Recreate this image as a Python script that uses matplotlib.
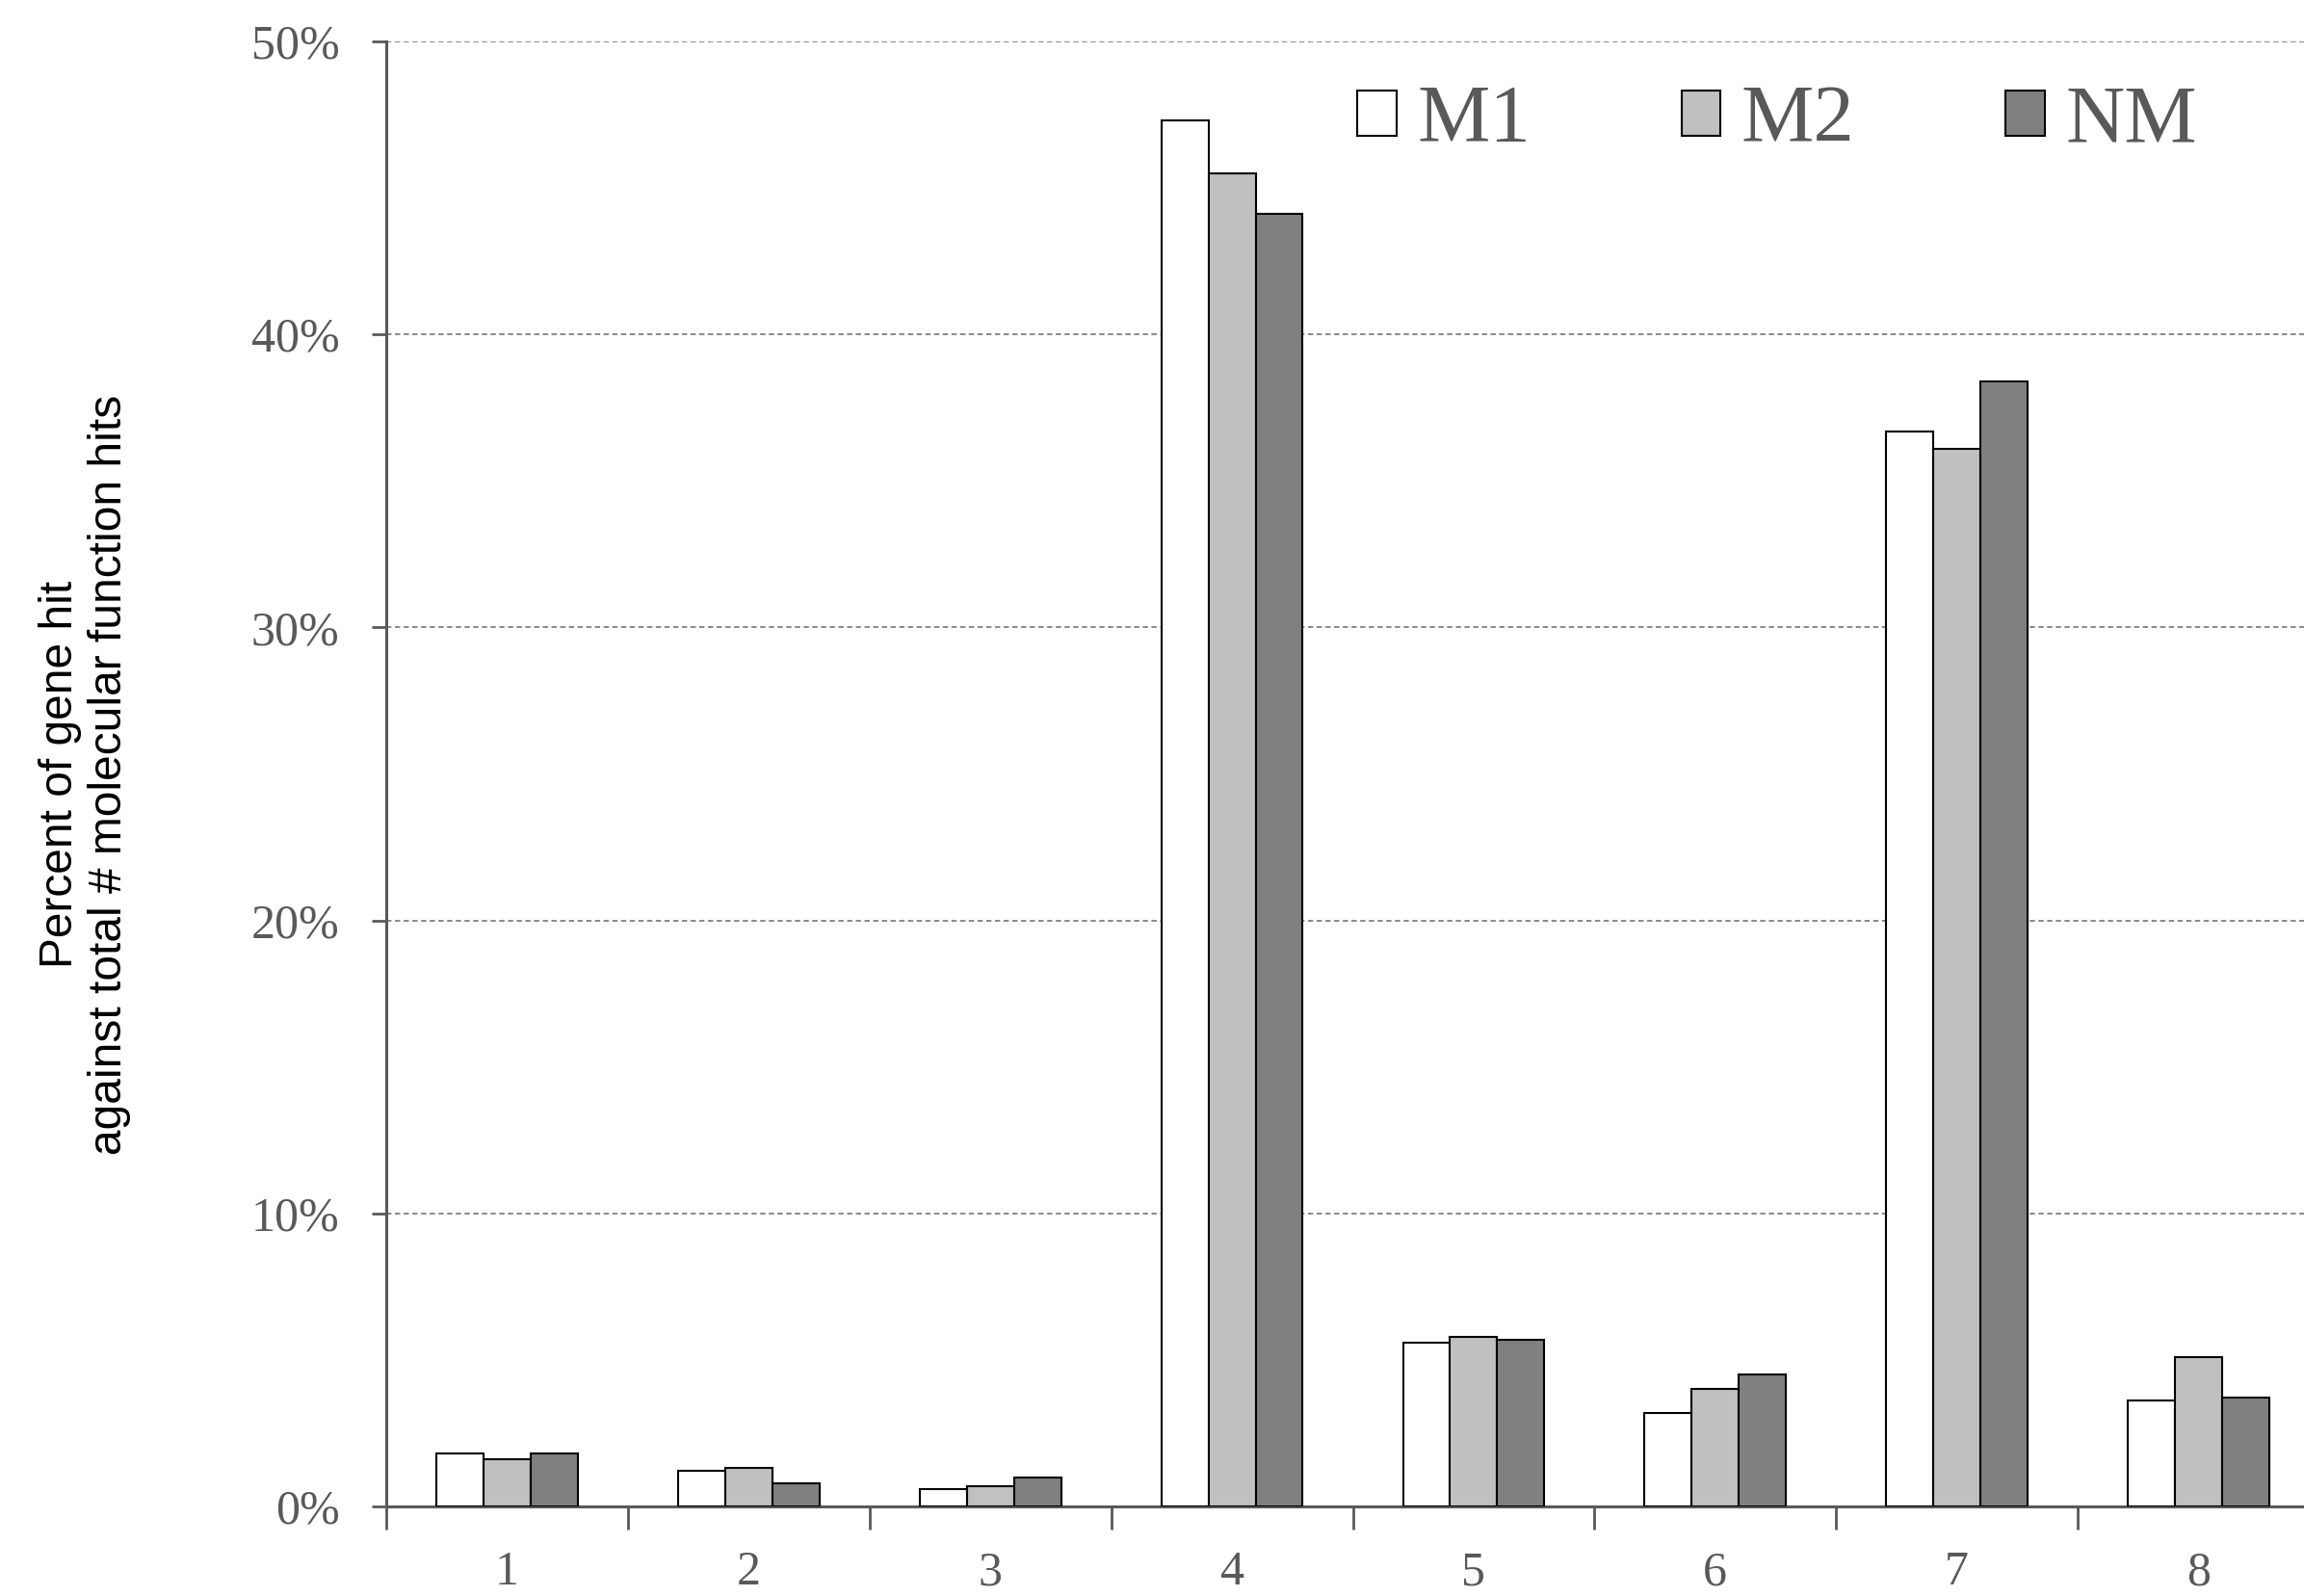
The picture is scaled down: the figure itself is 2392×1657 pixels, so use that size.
"""Grouped bar chart: percent of gene hits per molecular function category."""

import matplotlib
matplotlib.use("Agg")
import matplotlib.pyplot as plt
import numpy as np
from matplotlib.ticker import FuncFormatter, FixedLocator

categories = ["1", "2", "3", "4", "5", "6", "7", "8"]
m1 = [1.8, 1.2, 0.6, 47.3, 5.6, 3.2, 36.7, 3.6]
m2 = [1.6, 1.3, 0.7, 45.5, 5.8, 4.0, 36.1, 5.1]
nm = [1.8, 0.8, 1.0, 44.1, 5.7, 4.5, 38.4, 3.7]
series_names = ["M1", "M2", "NM"]
series_colors = ["#ffffff", "#c0c0c0", "#808080"]

GREY_TXT = "#595959"


def main() -> None:
    fig = plt.figure(figsize=(23.92, 16.57), dpi=100)
    ax = fig.add_axes([401 / 2392, 93 / 1657, 2007 / 2392, 1521 / 1657])

    x = np.arange(1, len(categories) + 1)
    w = 0.195
    for i, (vals, name, col) in enumerate(zip([m1, m2, nm], series_names, series_colors)):
        ax.bar(x + (i - 1) * w, vals, width=w, color=col, edgecolor="black",
               linewidth=1.5, label=name, zorder=3)

    ax.set_xlim(0.5, len(categories) + 0.5)
    ax.set_ylim(0, 50)
    ax.set_yticks(np.arange(0, 51, 10))
    ax.yaxis.set_major_formatter(FuncFormatter(lambda v, _: f"{int(v)}%"))
    ax.set_xticks(x)
    ax.set_xticklabels(categories)
    ax.xaxis.set_minor_locator(FixedLocator(np.arange(0.5, len(categories) + 1, 1)))

    ax.grid(axis="y", linestyle=(0, (3, 2)), color="#7f7f7f", linewidth=1.3, zorder=0)
    for side in ["top", "right"]:
        ax.spines[side].set_visible(False)
    for side in ["left", "bottom"]:
        ax.spines[side].set_color(GREY_TXT)
        ax.spines[side].set_linewidth(2.2)

    serif = ["Liberation Serif", "DejaVu Serif"]
    ax.tick_params(axis="y", direction="out", length=11, width=2, color=GREY_TXT,
                   pad=24, labelsize=36, labelcolor=GREY_TXT)
    ax.tick_params(axis="x", which="major", length=0, pad=33, labelsize=36,
                   labelcolor=GREY_TXT)
    ax.tick_params(axis="x", which="minor", direction="out", length=17, width=2,
                   color=GREY_TXT)
    for lab in ax.get_xticklabels() + ax.get_yticklabels():
        lab.set_fontfamily(serif)

    fig.text(88 / 2392, 1 - 804 / 1657,
             "Percent of gene hit\nagainst total # molecular function hits",
             rotation=90, ha="center", va="center", fontsize=34.5,
             family=["Liberation Sans", "DejaVu Sans"], linespacing=1.15)

    leg = ax.legend(loc="center", bbox_to_anchor=((1845 - 401) / 2007, 1 - (127 - 43) / 1521),
                    ncol=3, frameon=False, handlelength=0.48, handleheight=0.48,
                    handletextpad=0.25, columnspacing=1.85,
                    prop={"family": serif, "size": 61})
    for t in leg.get_texts():
        t.set_color(GREY_TXT)

    fig.savefig("out.png", dpi=100)
    plt.close(fig)


if __name__ == "__main__":
    main()
